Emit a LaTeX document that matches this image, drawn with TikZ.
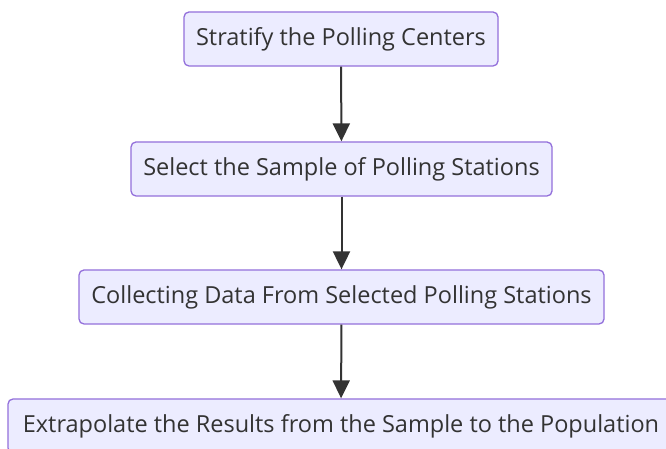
\documentclass[tikz,border=0pt]{standalone}
\usepackage{fontspec}
\setmainfont{Open Sans}
\usetikzlibrary{arrows.meta}
\definecolor{boxfill}{HTML}{ECECFF}
\definecolor{boxline}{HTML}{9370DB}
\definecolor{ink}{HTML}{333333}
\begin{document}
\begin{tikzpicture}[x=1pt,y=1pt,
  stepbox/.style={draw=boxline, fill=boxfill, line width=1.3pt, rounded corners=5pt,
    minimum height=54pt, inner sep=0pt, text=ink, font=\fontsize{23.5}{28}\selectfont},
  flow/.style={draw=ink, line width=2pt, -{Triangle[width=17pt,length=18pt]}}]
\useasboundingbox (0,0) rectangle (666,449);
\clip (0,0) rectangle (666,449);
\fill[white] (0,0) rectangle (666,449);
\node[stepbox, minimum width=314pt] (a) at (341,410) {Stratify the Polling Centers};
\node[stepbox, minimum width=421pt] (b) at (341.5,280) {Select the Sample of Polling Stations};
\node[stepbox, minimum width=525pt] (c) at (341.5,152) {Collecting Data From Selected Polling Stations};
\node[stepbox, minimum width=666pt] (d) at (341,23) {Extrapolate the Results from the Sample to the Population};
\draw[flow] (a) -- (b);
\draw[flow] (b) -- (c);
\draw[flow] (c) -- (d);
\end{tikzpicture}
\end{document}
